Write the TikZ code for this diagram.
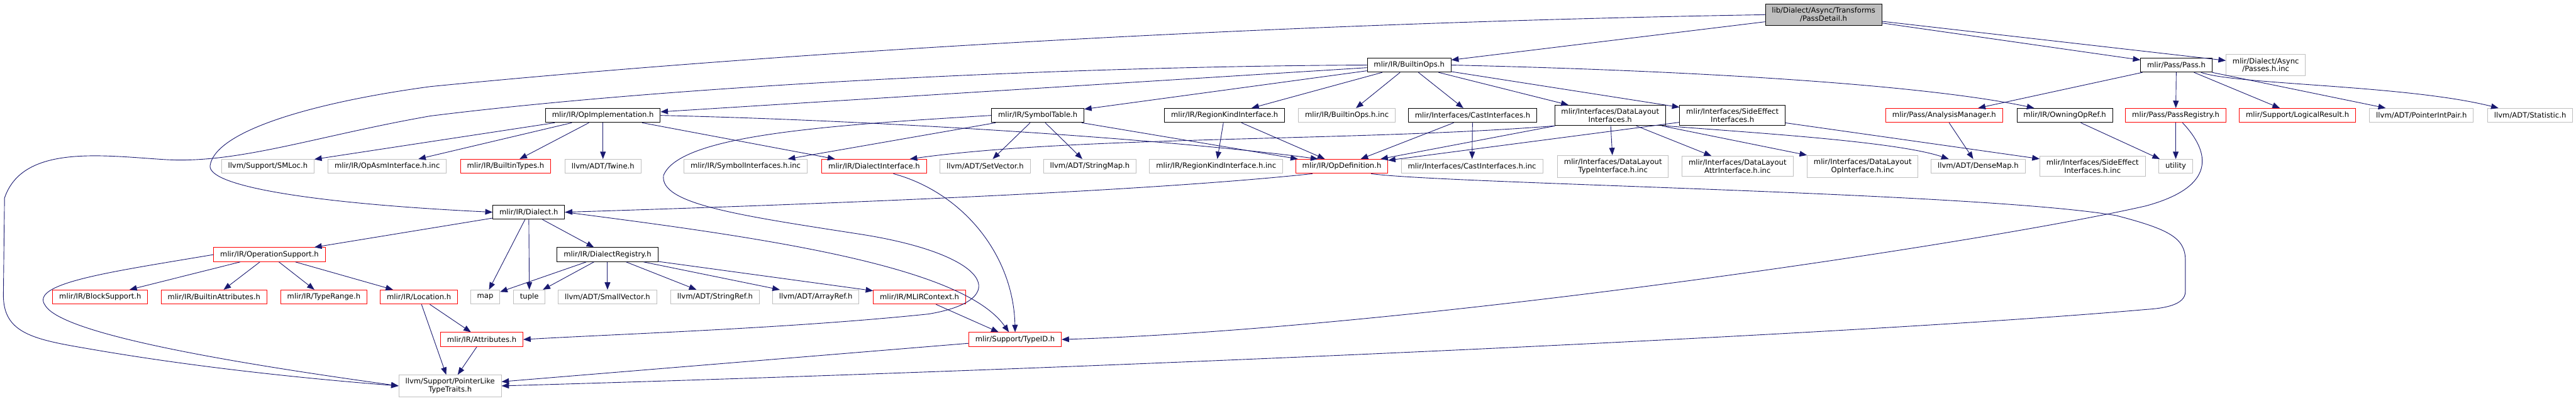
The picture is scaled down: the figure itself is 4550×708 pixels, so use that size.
\documentclass[tikz,border=0pt]{standalone}
\usepackage{fontspec}
\setmainfont{DejaVu Sans}
\usetikzlibrary{arrows.meta}
\definecolor{edgeblue}{RGB}{25,25,112}
\definecolor{graybd}{RGB}{191,191,191}

\begin{document}
\begin{tikzpicture}[
      x=1pt, y=-1pt,
      font=\fontsize{12.9pt}{14pt}\selectfont,
      file/.style={draw, rectangle, line width=1pt, inner xsep=11.5pt, inner ysep=6pt,
                   minimum height=25pt, align=center, fill=white},
      doc/.style={file, draw=black},
      trunc/.style={file, draw=red},
      extern/.style={file, draw=graybd},
      root/.style={file, draw=black, fill=graybd},
      incl/.style={draw=edgeblue, ->, >={Triangle[length=13pt,width=10pt]}, line width=1pt}
    ]
    \useasboundingbox (0,0) rectangle (4550,708);

    % The file itself and its direct includes.
    \node[root] (pd) at (3221,26) {lib/Dialect/Async/Transforms\\/PassDetail.h};
    \node[doc] (bops) at (2489,115) {mlir/IR/BuiltinOps.h};
    \node[doc] (pass) at (3844,115) {mlir/Pass/Pass.h};
    \node[extern] (passinc) at (4002,115) {mlir/Dialect/Async\\/Passes.h.inc};

    % Second level.
    \node[doc] (opimpl) at (1065,204) {mlir/IR/OpImplementation.h};
    \node[doc] (symtab) at (1833,204) {mlir/IR/SymbolTable.h};
    \node[doc] (regkind) at (2163,204) {mlir/IR/RegionKindInterface.h};
    \node[extern] (bopsinc) at (2379,204) {mlir/IR/BuiltinOps.h.inc};
    \node[doc] (cast) at (2601,204) {mlir/Interfaces/CastInterfaces.h};
    \node[doc] (dlayout) at (2844,204) {mlir/Interfaces/DataLayout\\Interfaces.h};
    \node[doc] (sideeff) at (3060,204) {mlir/Interfaces/SideEffect\\Interfaces.h};
    \node[trunc] (anamgr) at (3434,204) {mlir/Pass/AnalysisManager.h};
    \node[doc] (owning) at (3647,204) {mlir/IR/OwningOpRef.h};
    \node[trunc] (passreg) at (3843,204) {mlir/Pass/PassRegistry.h};
    \node[trunc] (logres) at (4058,204) {mlir/Support/LogicalResult.h};
    \node[extern] (ptrint) at (4277,204) {llvm/ADT/PointerIntPair.h};
    \node[extern] (statistic) at (4469,204) {llvm/ADT/Statistic.h};

    % Third level.
    \node[extern] (smloc) at (473,294) {llvm/Support/SMLoc.h};
    \node[extern] (opasminc) at (684,294) {mlir/IR/OpAsmInterface.h.inc};
    \node[trunc] (btypes) at (893,294) {mlir/IR/BuiltinTypes.h};
    \node[extern] (twine) at (1065,294) {llvm/ADT/Twine.h};
    \node[extern] (syminc) at (1317,294) {mlir/IR/SymbolInterfaces.h.inc};
    \node[trunc] (dialint) at (1544,294) {mlir/IR/DialectInterface.h};
    \node[extern] (setvec) at (1740,294) {llvm/ADT/SetVector.h};
    \node[extern] (strmap) at (1925,294) {llvm/ADT/StringMap.h};
    \node[extern] (reginc) at (2148,294) {mlir/IR/RegionKindInterface.h.inc};
    \node[trunc] (opdef) at (2370,294) {mlir/IR/OpDefinition.h};
    \node[extern] (castinc) at (2600,294) {mlir/Interfaces/CastInterfaces.h.inc};
    \node[extern] (dltypeinc) at (2849,294) {mlir/Interfaces/DataLayout\\TypeInterface.h.inc};
    \node[extern] (dlattrinc) at (3069,294) {mlir/Interfaces/DataLayout\\AttrInterface.h.inc};
    \node[extern] (dlopinc) at (3290,294) {mlir/Interfaces/DataLayout\\OpInterface.h.inc};
    \node[extern] (densemap) at (3494,294) {llvm/ADT/DenseMap.h};
    \node[extern] (sideinc) at (3696,294) {mlir/Interfaces/SideEffect\\Interfaces.h.inc};
    \node[extern] (utility) at (3843,294) {utility};

    % Dialect and below.
    \node[doc] (dialect) at (934,375) {mlir/IR/Dialect.h};
    \node[trunc] (opsup) at (476,450) {mlir/IR/OperationSupport.h};
    \node[doc] (dreg) at (1073,450) {mlir/IR/DialectRegistry.h};
    \node[trunc] (blocksup) at (177,525) {mlir/IR/BlockSupport.h};
    \node[trunc] (battr) at (378,525) {mlir/IR/BuiltinAttributes.h};
    \node[trunc] (trange) at (572,525) {mlir/IR/TypeRange.h};
    \node[trunc] (location) at (740,525) {mlir/IR/Location.h};
    \node[extern] (map) at (857,525) {map};
    \node[extern] (tuple) at (935,525) {tuple};
    \node[extern] (smallvec) at (1073,525) {llvm/ADT/SmallVector.h};
    \node[extern] (strref) at (1263,525) {llvm/ADT/StringRef.h};
    \node[extern] (arrref) at (1441,525) {llvm/ADT/ArrayRef.h};
    \node[trunc] (mlirctx) at (1624,525) {mlir/IR/MLIRContext.h};
    \node[trunc] (attrs) at (851,600) {mlir/IR/Attributes.h};
    \node[trunc] (typeid) at (1793,600) {mlir/Support/TypeID.h};
    \node[extern] (ptrlike) at (795,682) {llvm/Support/PointerLike\\TypeTraits.h};

    % Edges from the file itself.
    \draw[incl] (pd) -- (bops);
    \draw[incl] (pd) -- (pass);
    \draw[incl] (pd) -- (passinc);
    \draw[incl] (pd.west) .. controls (2280,40) and (1400,90) .. (760,153)
      .. controls (560,180) and (380,230) .. (371,293)
      .. controls (368,330) and (560,360) .. (dialect.west);

    % BuiltinOps.h
    \draw[incl] (bops.west) .. controls (1900,117) and (1200,150) .. (760,205)
      .. controls (560,240) and (420,290) .. (291,282)
      .. controls (180,275) and (40,255) .. (8,350)
      -- (6,520) .. controls (5,590) and (60,600) .. (160,617)
      .. controls (350,650) and (550,670) .. (ptrlike.west);
    \draw[incl] (bops) -- (opimpl);
    \draw[incl] (bops) -- (symtab);
    \draw[incl] (bops) -- (regkind);
    \draw[incl] (bops) -- (bopsinc);
    \draw[incl] (bops) -- (cast);
    \draw[incl] (bops) -- (dlayout);
    \draw[incl] (bops) -- (sideeff);
    \draw[incl] (bops.east) .. controls (3000,125) and (3400,150) .. ([xshift=-54pt]owning.north);

    % OpImplementation.h
    \draw[incl] (opimpl) -- (smloc);
    \draw[incl] (opimpl) -- (opasminc);
    \draw[incl] (opimpl) -- (btypes);
    \draw[incl] (opimpl) -- (twine);
    \draw[incl] (opimpl) -- (dialint);
    \draw[incl] (opimpl.east) .. controls (1600,214) and (2100,250) .. ([xshift=-42pt]opdef.north);

    % SymbolTable.h and RegionKindInterface.h
    \draw[incl] (symtab) -- (syminc);
    \draw[incl] (symtab) -- (setvec);
    \draw[incl] (symtab) -- (strmap);
    \draw[incl] (symtab) -- (opdef);
    \draw[incl] (symtab.west) .. controls (1450,222) and (1200,240) .. (1172,310)
      .. controls (1165,360) and (1300,380) .. (1520,414)
      .. controls (1750,450) and (1790,530) .. (1640,555)
      .. controls (1400,580) and (1100,590) .. (attrs.east);
    \draw[incl] (regkind) -- (reginc);
    \draw[incl] (regkind) -- (opdef);

    % Interfaces
    \draw[incl] (cast) -- (opdef);
    \draw[incl] (cast) -- (castinc);
    \draw[incl] (dlayout) -- (opdef);
    \draw[incl] (dlayout.south west) .. controls (2400,250) and (1900,240) .. ([xshift=63pt]dialint.north);
    \draw[incl] (dlayout) -- (dltypeinc);
    \draw[incl] (dlayout) -- (dlattrinc);
    \draw[incl] (dlayout) -- (dlopinc);
    \draw[incl] (dlayout.south east) .. controls (3100,235) and (3350,250) .. ([xshift=-52pt]densemap.north);
    \draw[incl] (sideeff) -- (opdef);
    \draw[incl] (sideeff) -- (sideinc);

    % OpDefinition.h
    \draw[incl] ([xshift=30pt]opdef.south west) .. controls (2150,325) and (1800,350) .. (dialect.east);
    \draw[incl] ([xshift=-30pt]opdef.south east) .. controls (2550,325) and (3500,340) .. (3738,381)
      .. controls (3830,405) and (3860,420) .. (3860,460) -- (3860,515)
      .. controls (3860,540) and (3820,545) .. (3790,547)
      .. controls (3300,590) and (2000,650) .. (ptrlike.east);

    % Pass.h
    \draw[incl] (pass) -- (anamgr);
    \draw[incl] (pass) -- (passreg);
    \draw[incl] (pass) -- (logres);
    \draw[incl] (pass) -- (ptrint);
    \draw[incl] ([xshift=-20pt]pass.south east) .. controls (3950,150) and (4250,150) .. ([xshift=-56pt]statistic.north);
    \draw[incl] (anamgr) -- (densemap);
    \draw[incl] (owning) -- (utility);
    \draw[incl] (passreg) -- (utility);
    \draw[incl] ([xshift=12pt]passreg.south) .. controls (3905,270) and (3915,330) .. (3790,364)
      .. controls (3500,430) and (2500,580) .. (typeid.east);

    % Dialect.h
    \draw[incl] (dialect) -- (opsup);
    \draw[incl] (dialect) -- (map);
    \draw[incl] (dialect) -- (tuple);
    \draw[incl] (dialect) -- (dreg);
    \draw[incl] (dialect.east) .. controls (1350,420) and (1700,470) .. ([xshift=-11pt]typeid.north);
    \draw[incl] (dreg) -- (map);
    \draw[incl] (dreg) -- (tuple);
    \draw[incl] (dreg) -- (smallvec);
    \draw[incl] (dreg) -- (strref);
    \draw[incl] (dreg) -- (arrref);
    \draw[incl] (dreg) -- (mlirctx);
    \draw[incl] ([xshift=34pt]dialint.south) .. controls (1700,340) and (1790,450) .. (typeid.north);
    \draw[incl] (mlirctx) -- (typeid);
    \draw[incl] (typeid) -- (ptrlike);

    % OperationSupport.h
    \draw[incl] (opsup) -- (blocksup);
    \draw[incl] (opsup) -- (battr);
    \draw[incl] (opsup) -- (trange);
    \draw[incl] (opsup) -- (location);
    \draw[incl] (opsup.west) .. controls (200,480) and (50,500) .. (80,540)
      .. controls (110,590) and (400,640) .. (ptrlike.west);
    \draw[incl] (location) -- (attrs);
    \draw[incl] (location) -- (ptrlike);
    \draw[incl] (attrs) -- (ptrlike);
  \end{tikzpicture}
\end{document}
